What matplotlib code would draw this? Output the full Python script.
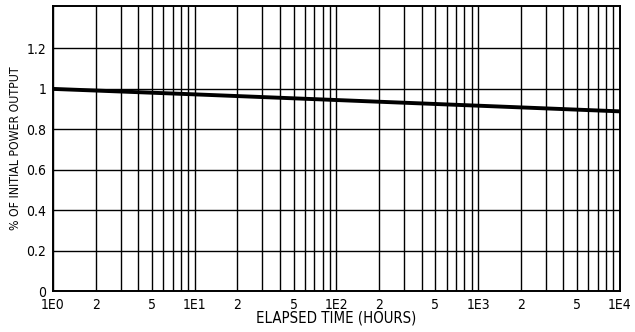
import numpy as np
import matplotlib.pyplot as plt
from matplotlib.ticker import FixedLocator, NullLocator

# data
hours = [1, 10, 100, 1000, 10000]
power = [1.0, 0.973, 0.945, 0.917, 0.889]

xtick_pos = [1, 2, 5, 10, 20, 50, 100, 200, 500, 1000, 2000, 5000, 10000]
xtick_lab = ['1E0', '2', '5', '1E1', '2', '5', '1E2', '2', '5', '1E3', '2', '5', '1E4']
ytick_pos = [0, 0.2, 0.4, 0.6, 0.8, 1, 1.2]
ytick_lab = ['0', '0.2', '0.4', '0.6', '0.8', '1', '1.2']

plt.rcParams['font.family'] = ['DejaVu Sans']
plt.rcParams['font.stretch'] = 'condensed'

fig = plt.figure(figsize=(6.35, 3.32), dpi=100)
ax = fig.add_axes([0.0835, 0.123, 0.8925, 0.859])

ax.set_xscale('log')
ax.set_xlim(1, 10000)
ax.set_ylim(0, 1.41)

# vertical grid at every 1..9 of each decade
grid_x = [m * 10 ** d for d in range(4) for m in range(1, 10)] + [10000]
for gx in grid_x:
    ax.axvline(gx, color='black', lw=1.0, zorder=1)
for gy in ytick_pos:
    ax.axhline(gy, color='black', lw=1.0, zorder=1)

ax.plot(hours, power, color='black', lw=2.8, zorder=3)

ax.xaxis.set_major_locator(FixedLocator(xtick_pos))
ax.xaxis.set_minor_locator(NullLocator())
ax.set_xticklabels(xtick_lab)
ax.set_yticks(ytick_pos)
ax.set_yticklabels(ytick_lab)
ax.tick_params(length=0, labelsize=10, pad=5)

for s in ax.spines.values():
    s.set_linewidth(1.4)

ax.set_xlabel('ELAPSED TIME (HOURS)', fontsize=10.7, labelpad=-1)
ax.set_ylabel('% OF INITIAL POWER OUTPUT', fontsize=8.8, labelpad=3)

fig.savefig('out.png', dpi=100)
